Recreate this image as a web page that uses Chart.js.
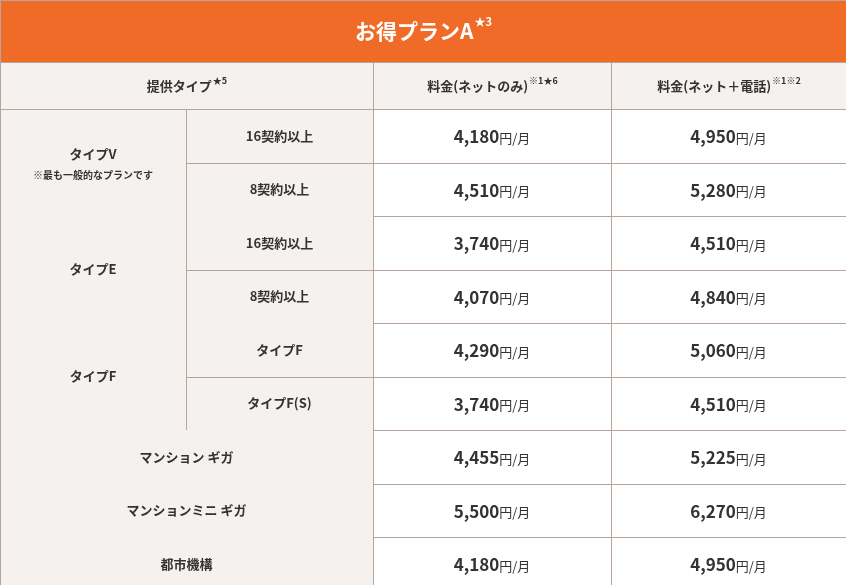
<!DOCTYPE html>
<html><head><meta charset="utf-8">
<script src="https://cdn.jsdelivr.net/npm/chart.js@4"></script>
<style>html,body{margin:0;padding:0;background:#fff}canvas{display:block}</style>
</head><body>
<canvas id="chart" width="846" height="585"></canvas>
<script>
const title = "お得プランA";
const titleSup = "★3";
const headers = [["提供タイプ", "★5"], ["料金(ネットのみ)", "※1★6"], ["料金(ネット＋電話)", "※1※2"]];
const groups = [
  { name: "タイプV", note: "※最も一般的なプランです", subs: ["16契約以上", "8契約以上"] },
  { name: "タイプE", subs: ["16契約以上", "8契約以上"] },
  { name: "タイプF", subs: ["タイプF", "タイプF(S)"] },
  { name: "マンション ギガ", subs: null },
  { name: "マンションミニ ギガ", subs: null },
  { name: "都市機構", subs: null },
];
const netOnly = [4180, 4510, 3740, 4070, 4290, 3740, 4455, 5500, 4180];
const netPhone = [4950, 5280, 4510, 4840, 5060, 4510, 5225, 6270, 4950];

const colX = [0, 186, 373, 611, 846];
const rowY = [0, 62, 109, 163, 216, 270, 323, 377, 430, 484, 537, 591];
const FONT = '"Noto Sans CJK JP", "Noto Sans", sans-serif';
const LINE = "#b9a49c", BEIGE = "#f5f1ee", TXT = "#333";

function supText(ctx, main, sup, cx, cy, size, supSize, color) {
  ctx.fillStyle = color;
  ctx.font = "bold " + size + "px " + FONT;
  const w1 = ctx.measureText(main).width;
  ctx.font = "bold " + supSize + "px " + FONT;
  const w2 = ctx.measureText(sup).width;
  const x0 = cx - (w1 + w2) / 2;
  ctx.textAlign = "left"; ctx.textBaseline = "middle";
  ctx.font = "bold " + size + "px " + FONT;
  ctx.fillText(main, x0, cy);
  ctx.font = "bold " + supSize + "px " + FONT;
  ctx.fillText(sup, x0 + w1 + 1, cy - size * 0.45);
}

const tablePlugin = {
  id: "table",
  afterDraw(chart) {
    const ctx = chart.ctx, sx = chart.scales.x, sy = chart.scales.y;
    const X = i => sx.getPixelForValue(colX[i]);
    const Y = i => sy.getPixelForValue(rowY[i]);
    const rect = (x0, y0, x1, y1, fill) => {
      ctx.fillStyle = fill; ctx.fillRect(X(x0), Y(y0), X(x1) - X(x0), Y(y1) - Y(y0));
    };
    ctx.save();
    // title
    rect(0, 0, 4, 1, "#f06a28");
    supText(ctx, title, titleSup, (X(0) + X(4)) / 2, (Y(0) + Y(1)) / 2, 21, 11, "#fff");
    // header
    rect(0, 1, 4, 2, BEIGE);
    supText(ctx, headers[0][0], headers[0][1], (X(0) + X(2)) / 2, (Y(1) + Y(2)) / 2 + 1, 13, 9, TXT);
    supText(ctx, headers[1][0], headers[1][1], (X(2) + X(3)) / 2, (Y(1) + Y(2)) / 2 + 1, 13, 9, TXT);
    supText(ctx, headers[2][0], headers[2][1], (X(3) + X(4)) / 2, (Y(1) + Y(2)) / 2 + 1, 13, 9, TXT);
    // body
    let r = 2, k = 0;
    ctx.strokeStyle = LINE; ctx.lineWidth = 1;
    const hline = (y, a, b) => { ctx.beginPath(); ctx.moveTo(X(a), Math.round(Y(y)) + 0.5); ctx.lineTo(X(b), Math.round(Y(y)) + 0.5); ctx.stroke(); };
    const vline = (x, a, b) => { ctx.beginPath(); ctx.moveTo(Math.round(X(x)) + 0.5, Y(a)); ctx.lineTo(Math.round(X(x)) + 0.5, Y(b)); ctx.stroke(); };
    const label = (t, cx, cy, size) => {
      ctx.fillStyle = TXT; ctx.font = "bold " + size + "px " + FONT;
      ctx.textAlign = "center"; ctx.textBaseline = "middle"; ctx.fillText(t, cx, cy);
    };
    const price = (v, cx, cy) => {
      const n = v.toLocaleString("en-US");
      ctx.font = "bold 17px " + FONT; const w1 = ctx.measureText(n).width;
      ctx.font = "13px " + FONT; const w2 = ctx.measureText("円/月").width;
      const x0 = cx - (w1 + w2) / 2;
      ctx.fillStyle = TXT; ctx.textAlign = "left"; ctx.textBaseline = "middle";
      ctx.font = "bold 17px " + FONT; ctx.fillText(n, x0, cy);
      ctx.font = "13px " + FONT; ctx.fillText("円/月", x0 + w1, cy + 1);
    };
    groups.forEach(g => {
      const span = g.subs ? g.subs.length : 1;
      const y0 = r, y1 = r + span;
      if (g.subs) {
        rect(0, y0, 2, y1, BEIGE);
        const cy = (Y(y0) + Y(y1)) / 2;
        if (g.note) { label(g.name, (X(0) + X(1)) / 2, cy - 8, 13); label(g.note, (X(0) + X(1)) / 2, cy + 13, 10); }
        else label(g.name, (X(0) + X(1)) / 2, cy, 13);
        g.subs.forEach((s, i) => label(s, (X(1) + X(2)) / 2, (Y(r + i) + Y(r + i + 1)) / 2, 13));
        vline(1, y0, y1);
        hline(r + 1, 1, 4);
      } else {
        rect(0, y0, 2, y1, BEIGE);
        label(g.name, (X(0) + X(2)) / 2, (Y(y0) + Y(y1)) / 2, 13);
      }
      for (let i = 0; i < span; i++) {
        const cy = (Y(r + i) + Y(r + i + 1)) / 2 + 1;
        price(netOnly[k], (X(2) + X(3)) / 2, cy);
        price(netPhone[k], (X(3) + X(4)) / 2, cy);
        k++;
      }
      hline(y1, 0, 4);
      r = y1;
    });
    for (let i = 1; i <= 2; i++) hline(i, 0, 4);
    vline(2, 1, 11); vline(3, 1, 11);
    vline(0, 0, 11); hline(0, 0, 4);
    ctx.restore();
  }
};

new Chart(document.querySelector("#chart"), {
  type: "scatter",
  data: { datasets: [{ data: [], pointRadius: 0 }] },
  options: {
    responsive: false, animation: false,
    layout: { padding: 0 },
    plugins: { legend: { display: false }, tooltip: { enabled: false } },
    scales: {
      x: { type: "linear", min: 0, max: 846, display: false },
      y: { type: "linear", min: 0, max: 585, reverse: true, display: false },
    },
  },
  plugins: [tablePlugin],
});
</script>
</body></html>
